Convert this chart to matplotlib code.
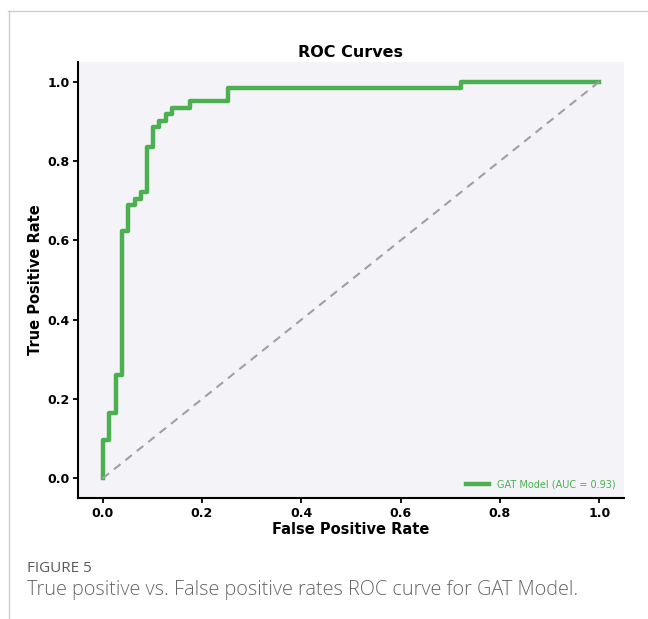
import matplotlib
matplotlib.use("Agg")
import matplotlib.pyplot as plt
from matplotlib.lines import Line2D

# ROC step points (fpr where the step starts, tpr level reached)
fpr = [0.0, 0.0, 0.013, 0.026, 0.039, 0.052, 0.065, 0.078, 0.089, 0.101,
       0.114, 0.127, 0.139, 0.177, 0.253, 0.722, 1.0]
tpr = [0.0, 0.098, 0.164, 0.262, 0.623, 0.689, 0.705, 0.721, 0.836, 0.885,
       0.902, 0.918, 0.934, 0.951, 0.984, 1.0, 1.0]
auc = 0.93
model_name = "GAT Model"
xticks = [0.0, 0.2, 0.4, 0.6, 0.8, 1.0]
yticks = [0.0, 0.2, 0.4, 0.6, 0.8, 1.0]

fig = plt.figure(figsize=(6.48, 6.19), dpi=100)
ax = fig.add_axes([0.120, 0.195, 0.843, 0.705])
ax.set_facecolor("#f4f4f8")

ax.plot(fpr, tpr, drawstyle="steps-post", color="#4caf50", lw=3.2,
        label=f"{model_name} (AUC = {auc:.2f})")
ax.plot([0, 1], [0, 1], color="#a0a0a0", lw=1.5, ls=(0, (4, 3)))

ax.set_xlim(-0.05, 1.05)
ax.set_ylim(-0.05, 1.05)
ax.set_xticks(xticks)
ax.set_yticks(yticks)
ax.set_xticklabels([f"{t:.1f}" for t in xticks], fontweight="bold", fontsize=9)
ax.set_yticklabels([f"{t:.1f}" for t in yticks], fontweight="bold", fontsize=9)
for s in ["top", "right"]:
    ax.spines[s].set_visible(False)
for s in ["left", "bottom"]:
    ax.spines[s].set_linewidth(1.5)
ax.tick_params(width=1.3, length=3.5, pad=2.5)

ax.set_title("ROC Curves", fontweight="bold", fontsize=11.5, pad=3.5)
ax.set_xlabel("False Positive Rate", fontweight="bold", fontsize=10.5, labelpad=1.5)
ax.set_ylabel("True Positive Rate", fontweight="bold", fontsize=10.5, labelpad=3)

leg = ax.legend(loc="lower right", frameon=False, fontsize=7,
                handlelength=2.4, labelcolor="#4caf50")

# page frame and caption
fig.add_artist(Line2D([8 / 648, 1], [1 - 11 / 619] * 2, color="#cccccc", lw=1))
fig.add_artist(Line2D([9 / 648] * 2, [0, 1 - 11 / 619], color="#cccccc", lw=1))
fig.text(27 / 648, 1 - 568 / 619, "FIGURE 5", family="Open Sans",
         fontsize=11, color="#5a5a5a", va="center")
fig.text(27 / 648, 1 - 590 / 619,
         "True positive vs. False positive rates ROC curve for GAT Model.",
         family="Open Sans", fontweight=300, fontsize=14.3, color="#666666",
         va="center")

fig.savefig("out.png", dpi=100)
